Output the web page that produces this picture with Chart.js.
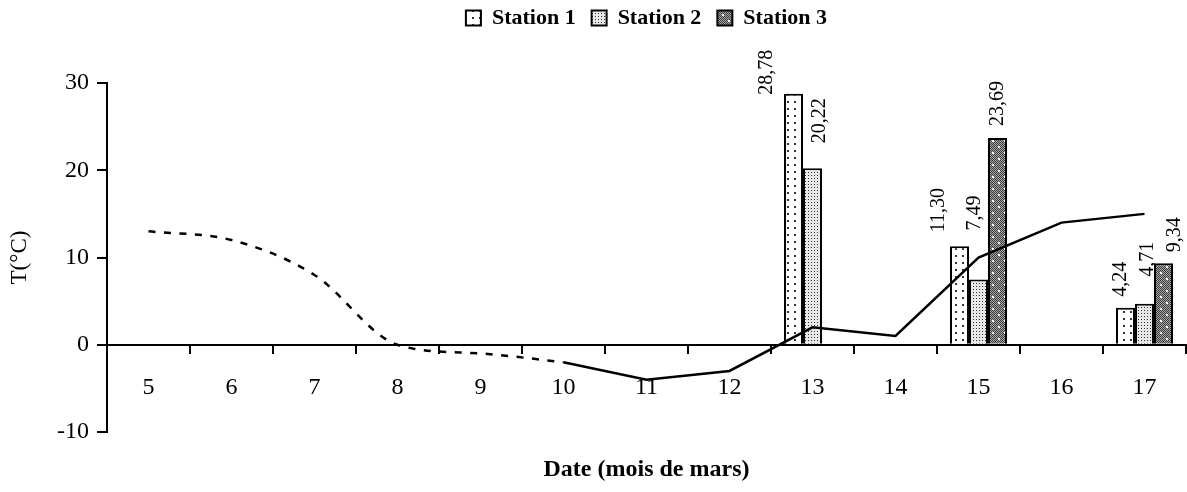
<!DOCTYPE html>
<html>
<head>
<meta charset="utf-8">
<script src="https://cdn.jsdelivr.net/npm/chart.js@4.4.1/dist/chart.umd.min.js"></script>
<style>
  html, body { margin: 0; padding: 0; background: #fff; }
  #wrap { width: 1187px; height: 492px; }
  canvas { display: block; }
</style>
</head>
<body>
<div id="wrap"><canvas id="chart" width="1187" height="492"></canvas></div>
<script>
// Days of March on the category axis
const days = ['5', '6', '7', '8', '9', '10', '11', '12', '13', '14', '15', '16', '17'];

// Temperature per station (°C), missing days left empty
const station1 = [null, null, null, null, null, null, null, null, 28.78, null, 11.30, null, 4.24];
const station2 = [null, null, null, null, null, null, null, null, 20.22, null, 7.49, null, 4.71];
const station3 = [null, null, null, null, null, null, null, null, null, null, 23.69, null, 9.34];

// Air temperature curve: estimated part (dotted) then measured part (solid)
const airEstimated = [13, 12, 8, 0, -1, -2, null, null, null, null, null, null, null];
const airMeasured  = [null, null, null, null, null, -2, -4, -3, 2, 1, 10, 14, 15];

// Value-axis ticks
const yTicks = [-10, 0, 10, 20, 30];

const SERIF = '"Liberation Serif", "Times New Roman", serif';

// Fill patterns for the three stations
function makePattern(kind) {
  const c = document.createElement('canvas');
  const g = c.getContext('2d');
  if (kind === 1) {
    c.width = 7; c.height = 7;
    g.fillStyle = '#fff'; g.fillRect(0, 0, 7, 7);
    g.fillStyle = '#333'; g.fillRect(3, 3, 2, 2);
  } else if (kind === 2) {
    c.width = 3; c.height = 3;
    g.fillStyle = '#e8e8e8'; g.fillRect(0, 0, 3, 3);
    g.fillStyle = '#333'; g.fillRect(1, 1, 1, 1);
  } else {
    c.width = 12; c.height = 12;
    for (let y = 0; y < 12; y++) {
      for (let x = 0; x < 12; x++) {
        g.fillStyle = ((x + y) % 2 === 0) ? '#3a3a3a' : '#a8a8a8';
        g.fillRect(x, y, 1, 1);
      }
    }
    g.fillStyle = '#fff';
    g.fillRect(2, 2, 2, 2);
    g.fillRect(8, 8, 2, 2);
  }
  return g.createPattern(c, 'repeat');
}

// Hand placement of the value labels: [horizontal shift, gap above the bar]
const labelPlacement = {
  '0:8': [-27, -1], '1:8': [7, 25],
  '0:10': [-21, 14], '1:10': [-4, 49], '2:10': [0, 12],
  '0:12': [-5, 11], '1:12': [3, 27], '2:12': [11, 11]
};

const valueLabels = {
  id: 'valueLabels',
  afterDatasetsDraw(chart) {
    const ctx = chart.ctx;
    ctx.save();
    ctx.font = '20px ' + SERIF;
    ctx.fillStyle = '#000';
    ctx.textAlign = 'left';
    ctx.textBaseline = 'middle';
    for (let i = 0; i < 3; i++) {
      const meta = chart.getDatasetMeta(i);
      const data = chart.data.datasets[i].data;
      meta.data.forEach((bar, j) => {
        const v = data[j];
        if (v === null || v === undefined) return;
        const [dx, gap] = labelPlacement[i + ':' + j] || [0, 11];
        ctx.save();
        ctx.translate(bar.x + dx, bar.y - gap);
        ctx.rotate(-Math.PI / 2);
        ctx.fillText(v.toFixed(2).replace('.', ','), 0, 0);
        ctx.restore();
      });
    }
    ctx.restore();
  }
};

// Fixed heights for the legend band and the bottom title band
function fixHeight(box, h) {
  if (!box || box._fixedH || typeof box.update !== 'function') return;
  const orig = box.update.bind(box);
  box.update = function (maxW, maxH, margins) {
    orig(maxW, maxH, margins);
    this.height = h;
    this.bottom = this.top + h;
  };
  box._fixedH = true;
}
const bandSizes = {
  id: 'bandSizes',
  beforeLayout(chart) {
    fixHeight(chart.legend, 83);
    fixHeight(chart.titleBlock, 60);
  },
  afterLayout(chart) {
    // keep the legend row close to the top edge
    if (chart.legend) chart.legend.top -= 9;
  }
};

const ctx = document.getElementById('chart').getContext('2d');

const barCommon = {
  type: 'bar',
  borderColor: '#000',
  borderWidth: 2,
  categoryPercentage: 0.687,
  barPercentage: 1.0,
  order: 2
};

new Chart(ctx, {
  data: {
    labels: days,
    datasets: [
      Object.assign({ label: 'Station 1', data: station1, backgroundColor: makePattern(1) }, barCommon),
      Object.assign({ label: 'Station 2', data: station2, backgroundColor: makePattern(2) }, barCommon),
      Object.assign({ label: 'Station 3', data: station3, backgroundColor: makePattern(3) }, barCommon),
      {
        type: 'line', label: 'air_est', data: airEstimated,
        borderColor: '#000', borderWidth: 2.5, borderDash: [7, 8.5],
        pointRadius: 0, fill: false, cubicInterpolationMode: 'monotone', order: 0
      },
      {
        type: 'line', label: 'air_mes', data: airMeasured,
        borderColor: '#000', borderWidth: 2.5, tension: 0,
        pointRadius: 0, fill: false, order: 0
      }
    ]
  },
  options: {
    responsive: false,
    animation: false,
    devicePixelRatio: 1,
    layout: { padding: { top: 0, left: 0, right: 1, bottom: 0 } },
    plugins: {
      legend: {
        position: 'top',
        fullSize: false,
        labels: {
          boxWidth: 15, boxHeight: 15, padding: 16, color: '#000',
          font: { family: SERIF, size: 22, weight: 'bold' },
          filter: item => item.datasetIndex < 3
        }
      },
      title: {
        display: true, position: 'bottom', fullSize: false,
        text: 'Date (mois de mars)', color: '#000',
        font: { family: SERIF, size: 24, weight: 'bold' },
        padding: { top: 23, bottom: 0 }
      },
      tooltip: { enabled: false }
    },
    scales: {
      x: {
        type: 'category',
        position: { y: 0 },
        offset: true,
        z: 1,
        grid: { offset: true, drawOnChartArea: false, drawTicks: true, tickLength: 8, color: '#000', lineWidth: 2 },
        border: { display: true, color: '#000', width: 2 },
        ticks: { color: '#000', font: { family: SERIF, size: 24 }, padding: 21, maxRotation: 0, autoSkip: false },
        afterFit(s) { s.height = 0; }
      },
      y: {
        min: -10, max: 30,
        afterBuildTicks(s) { s.ticks = yTicks.map(v => ({ value: v })); },
        grid: { drawOnChartArea: false, drawTicks: true, tickLength: 10, color: '#000', lineWidth: 2 },
        border: { display: true, color: '#000', width: 2 },
        ticks: { color: '#000', font: { family: SERIF, size: 24 }, padding: 8 },
        title: { display: true, text: 'T(°C)', color: '#000', font: { family: SERIF, size: 23 }, padding: { top: 6, bottom: 0 } },
        afterFit(s) { s.width = 107; }
      }
    }
  },
  plugins: [bandSizes, valueLabels]
});
</script>
</body>
</html>
